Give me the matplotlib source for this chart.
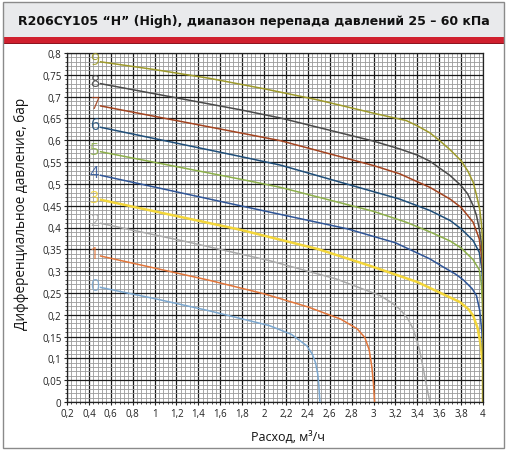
"""
Flow / differential pressure curves for R206CY105 "H" (High).

Outputs:
    out.png
"""

import matplotlib.pyplot as plt
from matplotlib.patches import Rectangle
from matplotlib.ticker import FuncFormatter, MultipleLocator

# --- Data (x: m3/h, y: bar) ---
curve_names = ["0", "1", "2", "3", "4", "5", "6", "7", "8", "9"]

x0 = [0.5, 1.0, 1.5, 2.05, 2.25, 2.39, 2.44, 2.47, 2.49, 2.5, 2.51]
y0 = [0.263, 0.237, 0.209, 0.175, 0.155, 0.129, 0.11, 0.09, 0.065, 0.04, 0.0]

x1 = [0.5, 1.0, 1.5, 2.0, 2.4, 2.7, 2.85, 2.92, 2.96, 2.985, 3.0, 3.01]
y1 = [0.335, 0.307, 0.279, 0.248, 0.218, 0.19, 0.168, 0.148, 0.12, 0.08, 0.04, 0.0]

x2 = [0.5, 1.3, 2.05, 2.66, 3.06, 3.15, 3.24, 3.31, 3.363, 3.42, 3.455, 3.49, 3.515]
y2 = [0.41, 0.367, 0.324, 0.282, 0.244, 0.23, 0.213, 0.192, 0.167, 0.12, 0.076, 0.03, 0.0]

x3 = [0.5, 1.78, 2.5, 2.97, 3.4, 3.79, 3.87, 3.91, 3.95, 3.98, 4.0, 4.0]
y3 = [0.464, 0.395, 0.35, 0.312, 0.275, 0.229, 0.212, 0.198, 0.17, 0.13, 0.08, 0.0]

x4 = [0.5, 1.78, 2.15, 2.76, 3.2, 3.515, 3.64, 3.75, 3.82, 3.9, 3.94, 3.97, 3.99, 4.0, 4.0]
y4 = [0.52, 0.45, 0.43, 0.397, 0.365, 0.328, 0.309, 0.293, 0.28, 0.26, 0.244, 0.21, 0.16, 0.1, 0.0]

x5 = [0.5, 1.78, 2.15, 3.0, 3.3, 3.515, 3.7, 3.8, 3.91, 3.966, 3.985, 3.995, 4.0, 4.0]
y5 = [0.574, 0.511, 0.492, 0.437, 0.412, 0.39, 0.369, 0.353, 0.326, 0.303, 0.27, 0.22, 0.15, 0.0]

x6 = [0.5, 1.78, 2.15, 3.24, 3.515, 3.7, 3.8, 3.91, 3.966, 3.99, 4.0, 4.0]
y6 = [0.63, 0.563, 0.543, 0.465, 0.439, 0.416, 0.397, 0.37, 0.343, 0.305, 0.25, 0.0]

x7 = [0.5, 1.78, 2.15, 3.0, 3.24, 3.515, 3.7, 3.8, 3.91, 3.966, 3.99, 4.0, 4.0]
y7 = [0.679, 0.617, 0.599, 0.542, 0.523, 0.492, 0.465, 0.446, 0.412, 0.374, 0.328, 0.29, 0.0]

x8 = [0.5, 1.78, 2.15, 3.0, 3.24, 3.4, 3.515, 3.7, 3.8, 3.86, 3.91, 3.94, 3.966, 3.985, 3.995, 4.0, 4.0]
y8 = [0.73, 0.67, 0.651, 0.598, 0.58, 0.566, 0.552, 0.519, 0.496, 0.477, 0.45, 0.428, 0.397, 0.365, 0.335, 0.29, 0.0]

x9 = [0.5, 1.0, 1.5, 2.0, 2.5, 3.0, 3.3, 3.4, 3.515, 3.6, 3.7, 3.8, 3.86, 3.91, 3.94, 3.97, 3.985, 3.995, 4.0, 4.0]
y9 = [0.78, 0.762, 0.742, 0.718, 0.692, 0.662, 0.645, 0.633, 0.617, 0.6, 0.578, 0.553, 0.53, 0.504, 0.475, 0.442, 0.41, 0.374, 0.305, 0.0]

curves_x = [x0, x1, x2, x3, x4, x5, x6, x7, x8, x9]
curves_y = [y0, y1, y2, y3, y4, y5, y6, y7, y8, y9]

colors = [
    "#7ba7cf",  # 0
    "#e2763a",  # 1
    "#a8a8a8",  # 2
    "#f3d63a",  # 3
    "#2f5597",  # 4
    "#8db04a",  # 5
    "#1f4e79",  # 6
    "#a3431f",  # 7
    "#4a4a4a",  # 8
    "#9e9a2a",  # 9
]

title = "R206CY105 \u201cH\u201d (High), диапазон перепада давлений 25 \u2013 60 кПа"
x_label = "Расход, м\u00b3/ч"
y_label = "Дифференциальное давление, бар"


def comma_fmt(v, _pos):
    s = f"{v:.2f}".rstrip("0").rstrip(".")
    return s.replace(".", ",")


def main() -> None:
    W, H = 508, 452
    fig = plt.figure(figsize=(W / 100, H / 100), dpi=100)

    # --- Frame, title band, red bar ---
    fig.patches.append(Rectangle((3 / W, 1 - 449 / H), 501 / W, 446 / H,
                                 transform=fig.transFigure, facecolor="none",
                                 edgecolor="#8a8a8a", linewidth=1.0, zorder=5))
    fig.patches.append(Rectangle((4 / W, 1 - 38 / H), 500 / W, 34 / H,
                                 transform=fig.transFigure, facecolor="#e9eaec",
                                 edgecolor="none", zorder=1))
    fig.patches.append(Rectangle((4 / W, 1 - 44 / H), 500 / W, 6 / H,
                                 transform=fig.transFigure, facecolor="#d0202e",
                                 edgecolor="none", zorder=1))
    fig.patches.append(Rectangle((4 / W, 1 - 45 / H), 500 / W, 1.2 / H,
                                 transform=fig.transFigure, facecolor="#8e1520",
                                 edgecolor="none", zorder=1))
    fig.text(0.5, 1 - 21 / H, title, ha="center", va="center",
             fontsize=9.0, fontweight="bold", color="#111111",
             family="DejaVu Sans", zorder=6)

    # --- Axes ---
    ax = fig.add_axes([67 / W, 49 / H, 416 / W, 349 / H])
    ax.set_xlim(0.2, 4.0)
    ax.set_ylim(0, 0.8)

    ax.xaxis.set_major_locator(MultipleLocator(0.2))
    ax.xaxis.set_minor_locator(MultipleLocator(0.04))
    ax.yaxis.set_major_locator(MultipleLocator(0.05))
    ax.yaxis.set_minor_locator(MultipleLocator(0.01))
    ax.xaxis.set_major_formatter(FuncFormatter(comma_fmt))
    ax.yaxis.set_major_formatter(FuncFormatter(comma_fmt))

    ax.grid(which="major", color="#1a1a1a", linewidth=0.9)
    ax.grid(which="minor", color="#9a9a9a", linewidth=0.6)
    ax.set_axisbelow(True)

    ax.tick_params(which="major", direction="out", length=2.5, width=0.8,
                   labelsize=7, colors="#222222", pad=1.5)
    ax.tick_params(which="minor", direction="out", length=1.5, width=0.6,
                   colors="#333333")
    for lab in ax.get_xticklabels() + ax.get_yticklabels():
        lab.set_family("Open Sans")
    for sp in ax.spines.values():
        sp.set_color("#222222")
        sp.set_linewidth(0.9)

    # --- Curves ---
    for name, xs, ys, c in zip(curve_names, curves_x, curves_y, colors):
        lw = 1.8 if name == "3" else 1.1
        ax.plot(xs, ys, color=c, linewidth=lw, solid_capstyle="butt",
                solid_joinstyle="round", zorder=3)
        ax.text(xs[0] - 0.05, ys[0] + 0.004, name, color=c, fontsize=11.5,
                ha="center", va="center", family="Open Sans", alpha=0.9,
                zorder=4)

    fig.text(288 / W, 1 - 437 / H, x_label, ha="center", va="center",
             fontsize=9.0, color="#111111", family="Open Sans")
    fig.text(22 / W, 1 - 214 / H, y_label, ha="center", va="center",
             rotation=90, fontsize=9.8, color="#111111", family="Open Sans")

    fig.savefig("out.png", dpi=100)
    plt.close(fig)


if __name__ == "__main__":
    main()
